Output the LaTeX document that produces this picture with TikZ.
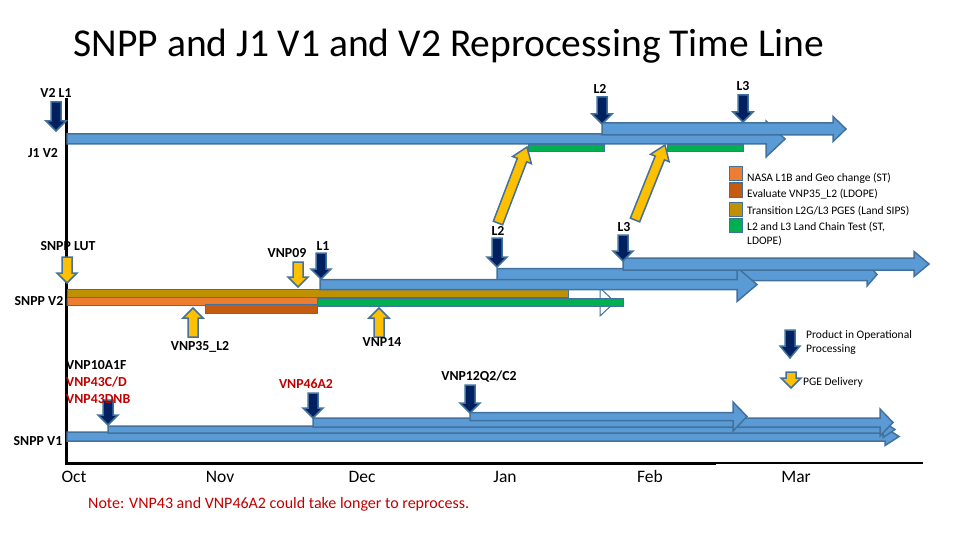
\documentclass[tikz,border=0pt]{standalone}
\usepackage{fontspec}
\setmainfont{Carlito}
\usepackage{tikz}
\usetikzlibrary{calc}
\definecolor{arrblue}{HTML}{5B9BD5}
\definecolor{arredge}{HTML}{41719C}
\definecolor{navy}{HTML}{002060}
\definecolor{pge}{HTML}{FFC000}
\definecolor{nasa}{HTML}{ED7D31}
\definecolor{evalc}{HTML}{C55A11}
\definecolor{trans}{HTML}{BF9000}
\definecolor{chain}{HTML}{00B050}
\definecolor{notered}{HTML}{C00000}

% block arrow: [style]{from}{to}{body half}{head half}{head length}
\newcommand{\blockarrow}[6][]{%
  \coordinate (ba-s) at (#2);
  \coordinate (ba-e) at (#3);
  \coordinate (ba-h) at ($(ba-e)!#6!(ba-s)$);
  \draw[#1] ($(ba-s)!#4!90:(ba-e)$) -- ($(ba-h)!#4!-90:(ba-s)$)
    -- ($(ba-h)!#5!-90:(ba-s)$) -- (ba-e)
    -- ($(ba-h)!#5!90:(ba-s)$) -- ($(ba-h)!#4!90:(ba-s)$)
    -- ($(ba-s)!#4!-90:(ba-e)$) -- cycle;
}

\begin{document}
\begin{tikzpicture}[
  x=1pt, y=-1pt,
  bluearr/.style={fill=arrblue, draw=arredge, line width=1.5pt},
  navyarr/.style={fill=navy, draw=arredge, line width=1.5pt},
  pgearr/.style={fill=pge, draw=arredge, line width=1.5pt},
  bar/.style={draw=arredge, line width=1pt},
  lbl/.style={font=\fontsize{13.8}{16}\selectfont\bfseries, inner sep=0pt, anchor=base},
  redlbl/.style={lbl, text=notered},
  legtxt/.style={font=\fontsize{11.5}{14}\selectfont, inner sep=0pt, align=left},
  month/.style={font=\fontsize{17.5}{20}\selectfont, inner sep=0pt, anchor=base}
]
  \useasboundingbox (0,0) rectangle (960,540);
  \node[font=\fontsize{39.5}{44}\selectfont, inner sep=0pt, anchor=base] (title) at (449,57)
    {SNPP and J1 V1 and V2 Reprocessing Time Line};

  \draw[line width=3pt] (66,98) -- (66,463) -- (716,463);
  \draw[line width=2pt] (716,462.5) -- (923,462.5);

  % J1 V2
  \blockarrow[bluearr]{67,139}{785,139}{5pt}{18pt}{19pt}
  \blockarrow[bluearr]{602,129}{846,129}{6pt}{12.5pt}{13pt}
  \draw[bar, fill=chain] (528,145) rectangle (604,152);
  \draw[bar, fill=chain] (667,145) rectangle (743,152);
  \blockarrow[navyarr]{56,102}{56,131}{5pt}{10pt}{10pt}
  \blockarrow[navyarr]{602,97}{602,124}{5pt}{10pt}{10pt}
  \blockarrow[navyarr]{743,95}{743,122}{5pt}{10pt}{10pt}
  \blockarrow[pgearr]{498,223}{527,147}{5pt}{10pt}{14pt}
  \blockarrow[pgearr]{635,220}{665,145}{5pt}{10pt}{14pt}

  % SNPP V2
  \blockarrow[fill=white, draw=arredge, line width=1pt]{67,302}{615,302}{3pt}{14pt}{15pt}
  \draw[bar, fill=trans] (67,289) rectangle (568,297);
  \draw[bar, fill=nasa] (67,297) rectangle (317,305);
  \draw[bar, fill=evalc] (205,304) rectangle (317,313);
  \draw[bar, fill=chain] (317,298) rectangle (623,306);
  \blockarrow[bluearr]{497,274.5}{877,274.5}{6pt}{11.5pt}{10pt}
  \blockarrow[bluearr]{320,284.5}{757,284.5}{5pt}{17pt}{20pt}
  \blockarrow[bluearr]{623,264}{929,264}{6pt}{12.5pt}{15pt}
  \blockarrow[navyarr]{321,253}{321,279}{5pt}{10pt}{10pt}
  \blockarrow[navyarr]{497,238}{497,267}{5pt}{10pt}{10pt}
  \blockarrow[navyarr]{623,235}{623,261}{5pt}{10pt}{10pt}
  \blockarrow[pgearr]{67,257}{67,283}{5pt}{10pt}{10pt}
  \blockarrow[pgearr]{298,262}{298,287}{5pt}{10pt}{10pt}
  \blockarrow[pgearr]{193,337}{193,308}{5pt}{10pt}{10pt}
  \blockarrow[pgearr]{379,337}{379,308}{5pt}{10pt}{10pt}

  % SNPP V1
  \blockarrow[bluearr]{67,436.5}{899,436.5}{4.5pt}{9pt}{14pt}
  \blockarrow[bluearr]{108,429.5}{895,429.5}{3.5pt}{8pt}{12pt}
  \blockarrow[bluearr]{313,422.5}{893,422.5}{4.5pt}{13.5pt}{13pt}
  \blockarrow[bluearr]{470,416.5}{747,416.5}{4pt}{14.5pt}{14pt}
  \blockarrow[navyarr]{108,400}{108,425}{5pt}{10pt}{10pt}
  \blockarrow[navyarr]{313,393}{313,418}{5pt}{10pt}{10pt}
  \blockarrow[navyarr]{470,385}{470,413}{5pt}{10pt}{10pt}

  % legend
  \foreach \c/\y in {nasa/167, evalc/183, trans/202, chain/218}
    \draw[bar, fill=\c] (729,\y) rectangle (742,\y+14);
  \node[legtxt, anchor=base west] (leg1) at (747,182) {NASA L1B and Geo change (ST)};
  \node[legtxt, anchor=base west] (leg2) at (747,197) {Evaluate VNP35\_L2 (LDOPE)};
  \node[legtxt, anchor=base west] (leg3) at (747,214) {Transition L2G/L3 PGES (Land SIPS)};
  \node[legtxt, anchor=north west] (leg4) at (747,221.5) {L2 and L3 Land Chain Test (ST,\\LDOPE)};
  \blockarrow[navyarr]{790,330}{790,358}{5pt}{10pt}{12pt}
  \node[legtxt, anchor=north west] (legop) at (806,330.5) {Product in Operational\\Processing};
  \blockarrow[pgearr]{791,372}{791,388}{5pt}{10pt}{10pt}
  \node[legtxt, anchor=base west] (legpge) at (803,385) {PGE Delivery};

  % labels
  \node[lbl] (v2l1) at (56,97.5) {V2 L1};
  \node[lbl] (j1l2) at (600,94) {L2};
  \node[lbl] (j1l3) at (743,91) {L3};
  \node[lbl] (j1v2) at (43,158) {J1 V2};
  \node[lbl] (lut) at (68,250) {SNPP LUT};
  \node[lbl] (vnp09) at (287,257) {VNP09};
  \node[lbl] (sl1) at (323,250) {L1};
  \node[lbl] (sl2) at (498,235) {L2};
  \node[lbl] (sl3) at (624,231) {L3};
  \node[lbl] (snppv2) at (39,305) {SNPP V2};
  \node[lbl] (vnp35) at (200,350) {VNP35\_L2};
  \node[lbl] (vnp14) at (382,346) {VNP14};
  \node[lbl, anchor=base west] (vnp10) at (66,369) {VNP10A1F};
  \node[redlbl, anchor=base west] (vnp43a) at (66,386) {VNP43C/D};
  \node[redlbl, anchor=base west] (vnp43b) at (66,403) {VNP43DNB};
  \node[redlbl] (vnp46) at (306,388) {VNP46A2};
  \node[lbl] (vnp12) at (479,380) {VNP12Q2/C2};
  \node[lbl] (snppv1) at (38,445) {SNPP V1};

  \foreach \m/\x in {Oct/74, Nov/220, Dec/362, Jan/505, Feb/650, Mar/796}
    \node[month] (m-\m) at (\x,482.5) {\m};
  \node[font=\fontsize{16}{19}\selectfont, text=notered, inner sep=0pt, anchor=base west] (note) at (88,508)
    {Note: VNP43 and VNP46A2 could take longer to reprocess.};
\end{tikzpicture}
\end{document}
